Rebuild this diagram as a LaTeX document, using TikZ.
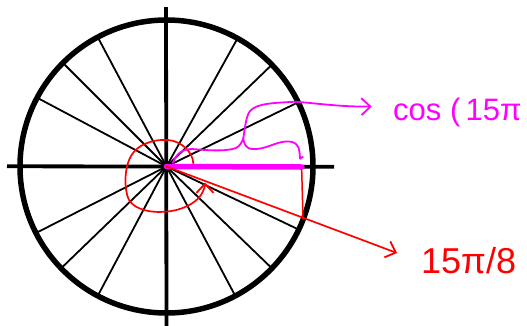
\documentclass[tikz,border=0pt]{standalone}
\usepackage{fontspec}
\setmainfont{Liberation Sans}
\usetikzlibrary{arrows.meta}
\definecolor{pink}{RGB}{255,0,255}
\definecolor{redink}{RGB}{255,0,0}
\tikzset{
  axis/.style={line width=3.8pt},
  rim/.style={line width=5.5pt},
  spoke/.style={line width=1.8pt},
  pinkink/.style={pink, line width=1.8pt, line cap=round, line join=round},
  redpen/.style={redink, line width=1.7pt, line cap=round, line join=round},
  barb/.style={-{Straight Barb[length=9pt,width=17pt,line width=1.8pt]}},
  lbl/.style={inner sep=0pt, anchor=west, font=\fontsize{31}{33}\selectfont}
}
\begin{document}
\begin{tikzpicture}[x=1pt,y=-1pt]
\useasboundingbox[fill=white] (0,0) rectangle (527,325);
\begin{scope}
\clip (0,0) rectangle (527,325);
\coordinate (O) at (166.5,166.5);
\coordinate (xl) at (7,166.3);
\coordinate (xr) at (334,166.7);
\coordinate (yt) at (166,7);
\coordinate (yb) at (166.5,330);
% spokes
\foreach \a in {26,44,61,118,135,152,207,224,242,298,316,334.5}
  \draw[spoke] (O) -- ++(-\a:145);
% axes
\draw[axis] (xl) -- (xr);
\draw[axis] (yt) -- (yb);
% circle
\draw[rim] (O) circle[radius=146.5];
% magenta bar
\coordinate (B) at (302,167);
\draw[pink, line width=5.5pt, line cap=round] (O) -- (B);
% red vertical drop and terminal side
\coordinate (P) at (303,219);
\coordinate (T) at (397,253);
\draw[redpen, line width=1.5pt] (301.7,170) -- (P);
\draw[redpen, barb] (O) -- (T);
% red angle arc
\coordinate (A0) at (193.3,163.3);
\coordinate (A1) at (205,182.5);
\draw[redpen, barb] (A0)
  .. controls (193,152) and (181,141) .. (168,140)
  .. controls (152,139) and (137,145) .. (131,156)
  .. controls (124,168) and (124,190) .. (129,200)
  .. controls (135,210) and (152,213) .. (165,211.7)
  .. controls (180,211) and (195,204) .. (201,195)
  .. controls (204,190) and (205,186) .. (A1);
% magenta brace
\coordinate (C0) at (173,163);
\coordinate (C1) at (300.5,158.5);
\coordinate (Ct) at (243.3,138.3);
\draw[pinkink] (C0) .. controls (176,154) and (182,149) .. (192,149)
  .. controls (205,150) and (225,152) .. (236,148)
  .. controls (240,146) and (242,142) .. (Ct)
  .. controls (244,143) and (245,148) .. (252,149)
  .. controls (265,150) and (275,142) .. (286,141.5)
  .. controls (296,141) and (299,146) .. (299.5,152)
  .. controls (300,157) and (300,160) .. (C1)
  .. controls (301.5,157.5) and (302.5,157) .. (303,157);
% magenta pointer to label
\coordinate (M) at (371.7,106.5);
\draw[pinkink, barb] (Ct) .. controls (245,128) and (246,116) .. (250,111)
  .. controls (257,103) and (275,103) .. (295,101.7)
  .. controls (315,103) and (340,107) .. (M);
% labels
\node[lbl, text=pink] (cosl) at (393,112) {cos (\,15π};
\node[lbl, text=redink, font=\fontsize{36}{38}\selectfont] (ang) at (421,261) {15π/8};
\end{scope}
\end{tikzpicture}
\end{document}
